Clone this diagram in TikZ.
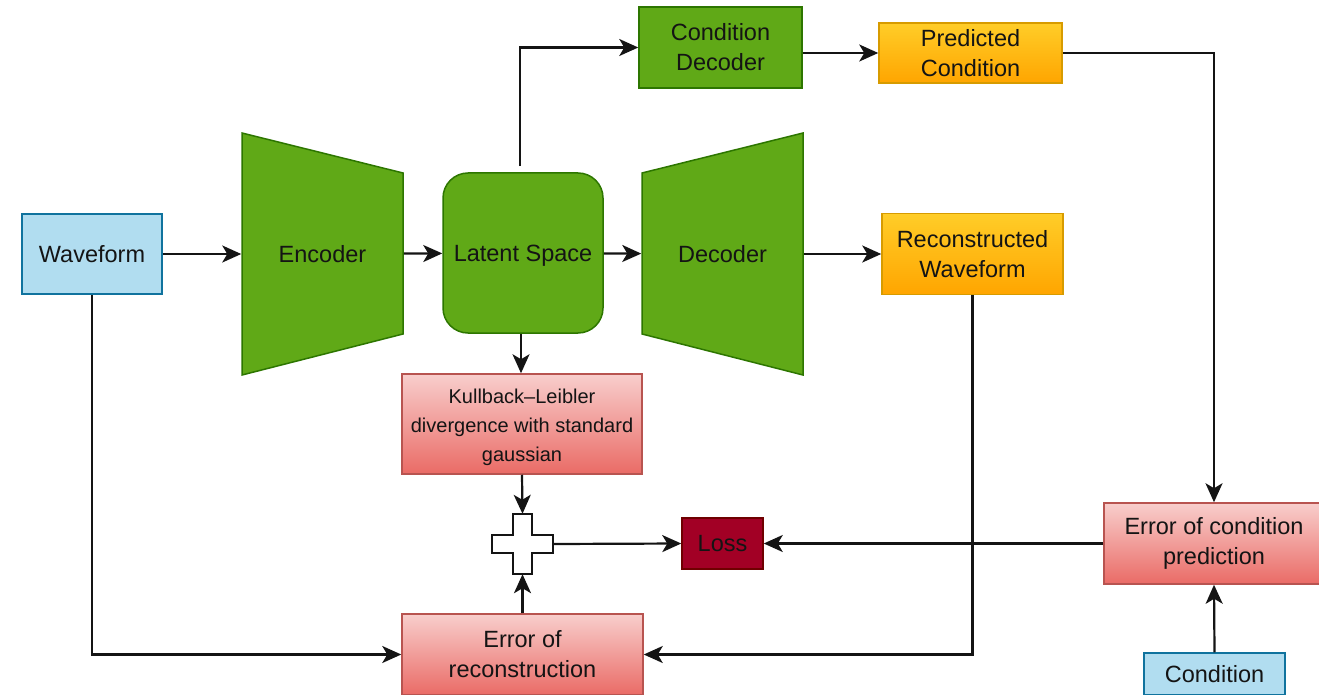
\documentclass[tikz,border=0pt]{standalone}
\usepackage{fontspec}
\setmainfont{Liberation Sans}
\usetikzlibrary{arrows.meta,calc}

\definecolor{bluefill}{HTML}{B1DDF0}
\definecolor{bluedraw}{HTML}{10739E}
\definecolor{greenfill}{HTML}{60A917}
\definecolor{greendraw}{HTML}{2D7600}
\definecolor{orangetop}{HTML}{FFCD28}
\definecolor{orangebot}{HTML}{FFA500}
\definecolor{orangedraw}{HTML}{D79B00}
\definecolor{redtop}{HTML}{F8CECC}
\definecolor{redbot}{HTML}{EA6B66}
\definecolor{reddraw}{HTML}{B85450}
\definecolor{lossfill}{HTML}{A20025}
\definecolor{lossdraw}{HTML}{6F0000}
\definecolor{ink}{HTML}{141414}

\tikzset{
  box/.style={rectangle, inner sep=0pt, align=center, text=ink, line width=1.5pt,
    font=\fontsize{23.5}{30}\selectfont},
  inbox/.style={box, fill=bluefill, draw=bluedraw},
  netbox/.style={box, fill=greenfill, draw=greendraw},
  outbox/.style={box, top color=orangetop, bottom color=orangebot, draw=orangedraw},
  errbox/.style={box, top color=redtop, bottom color=redbot, draw=reddraw},
  lossbox/.style={box, fill=lossfill, draw=lossdraw, text=ink},
  trap/.style={fill=greenfill, draw=greendraw, line width=1.5pt, line join=miter},
  ghost/.style={box, draw=none, fill=none},
  link/.style={draw=ink, line width=2.2pt,
    -{Stealth[length=19pt,width=17pt,inset=5pt]}},
}

\begin{document}
\begin{tikzpicture}[x=1pt,y=-1pt]
\useasboundingbox (0,0) rectangle (1319,695);

% encoder and decoder bodies
\draw[trap] (242,133) -- (403,173) -- (403,334) -- (242,375) -- cycle;
\draw[trap] (642,173) -- (803,133) -- (803,375) -- (642,334) -- cycle;
\node[ghost, minimum width=161pt, minimum height=2pt] (enc) at (322.5,254) {Encoder};
\node[ghost, minimum width=161pt, minimum height=2pt] (dec) at (722.5,254) {Decoder};

% boxes
\node[inbox, minimum width=140pt, minimum height=80pt] (wave) at (92,254) {Waveform};
\node[netbox, rounded corners=25pt, minimum width=160pt, minimum height=160pt, text depth=0pt] (lat) at (523,253) {Latent Space};
\node[netbox, minimum width=163pt, minimum height=81pt] (cd) at (720.5,47.5) {Condition\\Decoder};
\node[outbox, minimum width=183pt, minimum height=60pt] (pc) at (970.5,53) {Predicted\\Condition};
\node[outbox, minimum width=181pt, minimum height=81pt] (rw) at (972.5,254) {Reconstructed\\Waveform};
\node[errbox, minimum width=240pt, minimum height=100pt,
  label={[font=\fontsize{20}{29}\selectfont, align=center, text=ink, yshift=-3pt]center:Kullback–Leibler\\divergence with standard\\gaussian}] (kl) at (522,424) {};
\node[errbox, minimum width=241pt, minimum height=81pt] (er) at (522.5,654.5) {Error of\\reconstruction};
\node[errbox, minimum width=220pt, minimum height=81pt] (ec) at (1214,543.5) {Error of condition\\prediction};
\node[inbox, minimum width=141pt, minimum height=42pt] (cond) at (1214.5,674) {Condition};
\node[lossbox, minimum width=81pt, minimum height=51pt] (loss) at (722.5,543.5) {Loss};

% summation cross
\draw[fill=white, draw=ink, line width=1.8pt]
  (513,514) -- (532,514) -- (532,535) -- (553,535) -- (553,553) -- (532,553)
  -- (532,574) -- (513,574) -- (513,553) -- (492,553) -- (492,535) -- (513,535) -- cycle;
\node[inner sep=0pt, minimum width=61pt, minimum height=60pt] (plus) at (522.5,544) {};

% connectors
\draw[link] (wave) -- (enc);
\draw[link] (enc) -- (lat);
\draw[link] (lat) -- (dec);
\draw[link] (dec) -- (rw);
\draw[link, shorten <=6pt] ([xshift=-3pt]lat.north) |- (cd.west);
\draw[link] (cd.east |- pc.west) -- (pc.west);
\draw[link] (pc.east) -| (ec.north);
\draw[link] ([xshift=-2pt]lat.south) -- ([xshift=-2pt]lat.south |- kl.north);
\draw[link] (kl.south) -- (plus.north);
\draw[link] (er.north) -- (plus.south);
\draw[link] (plus.east) -- (loss.west);
\draw[link] (ec.west) -- (loss.east);
\draw[link] (cond.north) -- (ec.south);
\draw[link] (wave.south) |- (er.west);
\draw[link] (rw.south) |- (er.east);
\end{tikzpicture}
\end{document}
